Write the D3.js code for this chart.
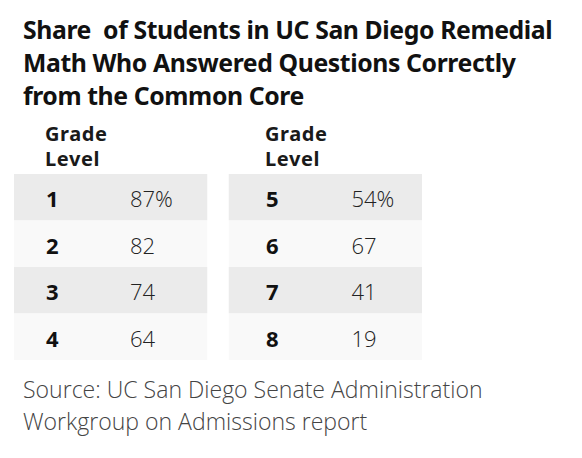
<!DOCTYPE html>
<html>
<head>
<meta charset="utf-8">
<script src="https://cdn.jsdelivr.net/npm/d3@7"></script>
<style>
  body { margin: 0; background: #fff; }
  svg { display: block; }
  text { white-space: pre; }
</style>
</head>
<body>
<svg id="chart"></svg>
<script>
// chart values
const titleLines = [
  "Share  of Students in UC San Diego Remedial",
  "Math Who Answered Questions Correctly",
  "from the Common Core"
];
const headerLines = ["Grade", "Level"];
const grades = [1, 2, 3, 4, 5, 6, 7, 8];
const shares = [87, 82, 74, 64, 54, 67, 41, 19];
const sourceLines = [
  "Source: UC San Diego Senate Administration",
  "Workgroup on Admissions report"
];

const width = 582, height = 458;
const svg = d3.select("#chart").attr("width", width).attr("height", height);

const font = "'Noto Sans', 'Open Sans', sans-serif";
const lightFont = "'Open Sans', 'Noto Sans', sans-serif";

// title
const title = svg.append("g")
  .attr("font-family", font)
  .attr("font-weight", 700)
  .attr("font-size", 24)
  .attr("fill", "#111");
title.selectAll("text")
  .data(titleLines)
  .join("text")
  .attr("x", 23)
  .attr("y", (d, i) => 39 + i * 33)
  .attr("letter-spacing", -0.4)
  .text(d => d);

// two side-by-side tables, 4 rows each
const perCol = 4;
const rows = grades.map((g, i) => ({
  grade: g,
  share: shares[i],
  col: Math.floor(i / perCol),
  row: i % perCol
}));

const xCol = d3.scaleBand().domain([0, 1]).range([14, 422]).paddingInner(0.1);
// text inside each table sits a little further right in the second one
const xText = d3.scaleLinear().domain([0, 1]).range([45, 265]);
const y = d3.scaleBand().domain(d3.range(perCol)).range([174, 360]);

// header
svg.selectAll("g.head")
  .data([0, 1])
  .join("g")
  .attr("class", "head")
  .selectAll("text")
  .data(c => headerLines.map(t => ({ c, t })))
  .join("text")
  .attr("x", d => xText(d.c))
  .attr("y", (d, i) => 141 + i * 25)
  .attr("font-family", font)
  .attr("font-weight", 700)
  .attr("font-size", 20)
  .attr("letter-spacing", 0.6)
  .attr("fill", "#1a1a1a")
  .text(d => d.t);

const rowG = svg.selectAll("g.row")
  .data(rows)
  .join("g")
  .attr("class", "row")
  .attr("transform", d => `translate(0,${y(d.row)})`);

rowG.append("rect")
  .attr("x", d => xCol(d.col))
  .attr("width", xCol.bandwidth())
  .attr("height", y.bandwidth())
  .attr("fill", d => d.row % 2 === 0 ? "#ebebeb" : "#f9f9f9");

rowG.append("text")
  .attr("x", d => xText(d.col) + 1)
  .attr("y", y.bandwidth() / 2 + 10)
  .attr("font-family", font)
  .attr("font-weight", 700)
  .attr("font-size", 22)
  .attr("fill", "#111")
  .text(d => d.grade);

rowG.append("text")
  .attr("x", d => xText(d.col) + 85 + d.col * 1.5)
  .attr("y", y.bandwidth() / 2 + 10)
  .attr("font-family", lightFont)
  .attr("font-weight", 300)
  .attr("font-size", 22)
  .attr("fill", "#222")
  .text(d => d.row === 0 ? d.share + "%" : d.share);

// source
const source = svg.append("g")
  .attr("font-family", lightFont)
  .attr("font-weight", 300)
  .attr("font-size", 20)
  .attr("fill", "#444");
source.selectAll("text")
  .data(sourceLines)
  .join("text")
  .attr("x", 23)
  .attr("y", (d, i) => 398 + i * 32)
  .text(d => d);

// match reference line widths
function fit(g, target) {
  const base = +g.attr("font-size");
  const w = g.select("text").node().getComputedTextLength();
  if (w > 0) g.attr("font-size", base * target / w);
}
fit(title, 529);
fit(source, 460);
</script>
</body>
</html>
